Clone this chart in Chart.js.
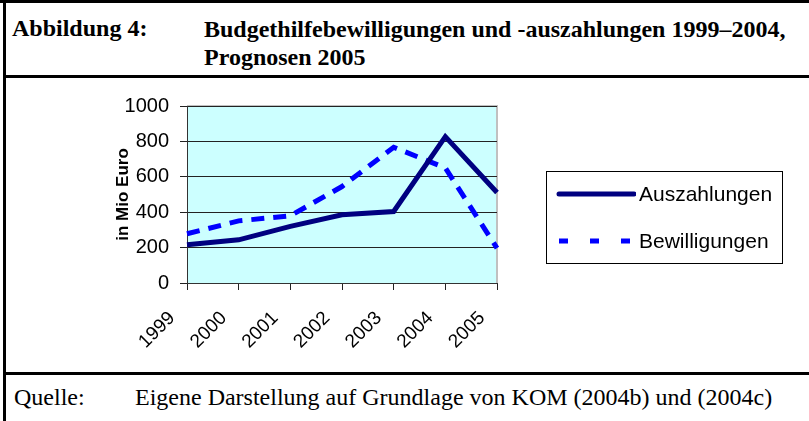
<!DOCTYPE html>
<html>
<head>
<meta charset="utf-8">
<script src="https://cdn.jsdelivr.net/npm/chart.js@4/dist/chart.umd.min.js"></script>
<style>
  body { margin: 0; background: #fff; }
  #page { position: relative; width: 809px; height: 421px; overflow: hidden; }
  .rule { position: absolute; background: #000; }
  .serif { position: absolute; font-family: "Liberation Serif", "Times New Roman", serif; color: #000; white-space: nowrap; }
  #chartBox { position: absolute; left: 6px; top: 78px; width: 800px; height: 294px; }
  #legend { position: absolute; left: 546px; top: 171px; width: 235px; height: 91px; border: 1px solid #000;
            font-family: "Liberation Sans", Arial, sans-serif; font-size: 21px; color: #000; }
  .item { position: absolute; left: 9px; height: 26px; display: flex; align-items: center; }
  .item canvas { margin-right: 3px; }
</style>
</head>
<body>
<div id="page">
  <div class="rule" style="left:0;top:0;width:809px;height:3px"></div>
  <div class="rule" style="left:3px;top:0;width:3px;height:421px"></div>
  <div class="rule" style="left:3px;top:75px;width:806px;height:3px"></div>
  <div class="rule" style="left:3px;top:372px;width:806px;height:3px"></div>

  <div class="serif" style="left:12px;top:15px;font-size:24px;font-weight:bold">Abbildung 4:</div>
  <div class="serif" style="left:204px;top:15px;font-size:24px;font-weight:bold;line-height:28px">Budgethilfebewilligungen und -auszahlungen 1999–2004,<br>Prognosen 2005</div>

  <div class="serif" style="left:14px;top:384px;font-size:24px">Quelle:</div>
  <div class="serif" style="left:135px;top:384px;font-size:24px">Eigene Darstellung auf Grundlage von KOM (2004b) und (2004c)</div>

  <div id="chartBox"><canvas id="lineChart"></canvas></div>
  <div id="legend"></div>
</div>
<script>
const years = ['1999', '2000', '2001', '2002', '2003', '2004', '2005'];
const auszahlungen = [216, 244, 320, 385, 404, 827, 511];
const bewilligungen = [278, 351, 380, 545, 767, 650, 197];
const yTicks = [0, 200, 400, 600, 800, 1000];

// plot area fill + grey top/right frame like the Excel original
const plotBg = {
    id: 'plotBg',
    beforeDraw(chart) {
        const { ctx, chartArea: a } = chart;
        ctx.save();
        ctx.fillStyle = '#CCFFFF';
        ctx.fillRect(a.left, a.top, a.right - a.left, a.bottom - a.top);
        ctx.strokeStyle = '#c0c0c0';
        ctx.lineWidth = 2;
        ctx.beginPath();
        ctx.moveTo(a.left, a.top);
        ctx.lineTo(a.right, a.top);
        ctx.lineTo(a.right, a.bottom);
        ctx.stroke();
        ctx.restore();
    }
};

const chart = new Chart(document.getElementById('lineChart'), {
    type: 'line',
    data: {
        labels: years,
        datasets: [{
            label: 'Auszahlungen',
            data: auszahlungen,
            borderColor: '#000080',
            borderWidth: 5,
            pointRadius: 0,
            tension: 0
        }, {
            label: 'Bewilligungen',
            data: bewilligungen,
            borderColor: '#0000FF',
            borderWidth: 5,
            borderDash: [13, 9],
            pointRadius: 0,
            tension: 0
        }]
    },
    options: {
        responsive: true,
        maintainAspectRatio: false,
        animation: false,
        layout: { padding: { left: 103, top: 28, right: 309, bottom: 4 } },
        plugins: { legend: { display: false }, tooltip: { enabled: false } },
        scales: {
            x: {
                offset: false,
                grid: { display: true, drawOnChartArea: false, color: '#222', tickLength: 7 },
                border: { color: '#333', width: 1 },
                ticks: {
                    color: '#000', maxRotation: 45, minRotation: 45,
                    padding: 17, labelOffset: -15,
                    font: { family: 'Liberation Sans', size: 19 }
                },
                afterFit(scale) { scale.height = 85; }
            },
            y: {
                min: 0,
                max: 1000,
                afterBuildTicks(scale) { scale.ticks = yTicks.map(v => ({ value: v })); },
                grid: { color: '#222', tickLength: 7 },
                border: { color: '#333', width: 1 },
                ticks: {
                    color: '#000', padding: 11,
                    callback: v => String(v),
                    font: { family: 'Liberation Sans', size: 20 }
                },
                title: {
                    display: true, text: 'in Mio Euro', color: '#000',
                    font: { family: 'Liberation Sans', size: 17, weight: 'bold' }
                },
                afterFit(scale) { scale.width = 78; }
            }
        }
    },
    plugins: [plotBg]
});

// legend from the datasets
const legend = document.getElementById('legend');
chart.data.datasets.forEach((ds, i) => {
    const item = document.createElement('div');
    item.className = 'item';
    item.style.top = (i === 0 ? 9 : 56) + 'px';
    const c = document.createElement('canvas');
    c.width = 80; c.height = 10;
    const g = c.getContext('2d');
    g.strokeStyle = ds.borderColor;
    g.lineWidth = 5;
    g.lineCap = i === 0 ? 'round' : 'butt';
    if (ds.borderDash) g.setLineDash([9, 22]);
    g.beginPath(); g.moveTo(3, 5); g.lineTo(78, 5); g.stroke();
    item.appendChild(c);
    const t = document.createElement('span');
    t.textContent = ds.label;
    item.appendChild(t);
    legend.appendChild(item);
});
</script>
</body>
</html>
